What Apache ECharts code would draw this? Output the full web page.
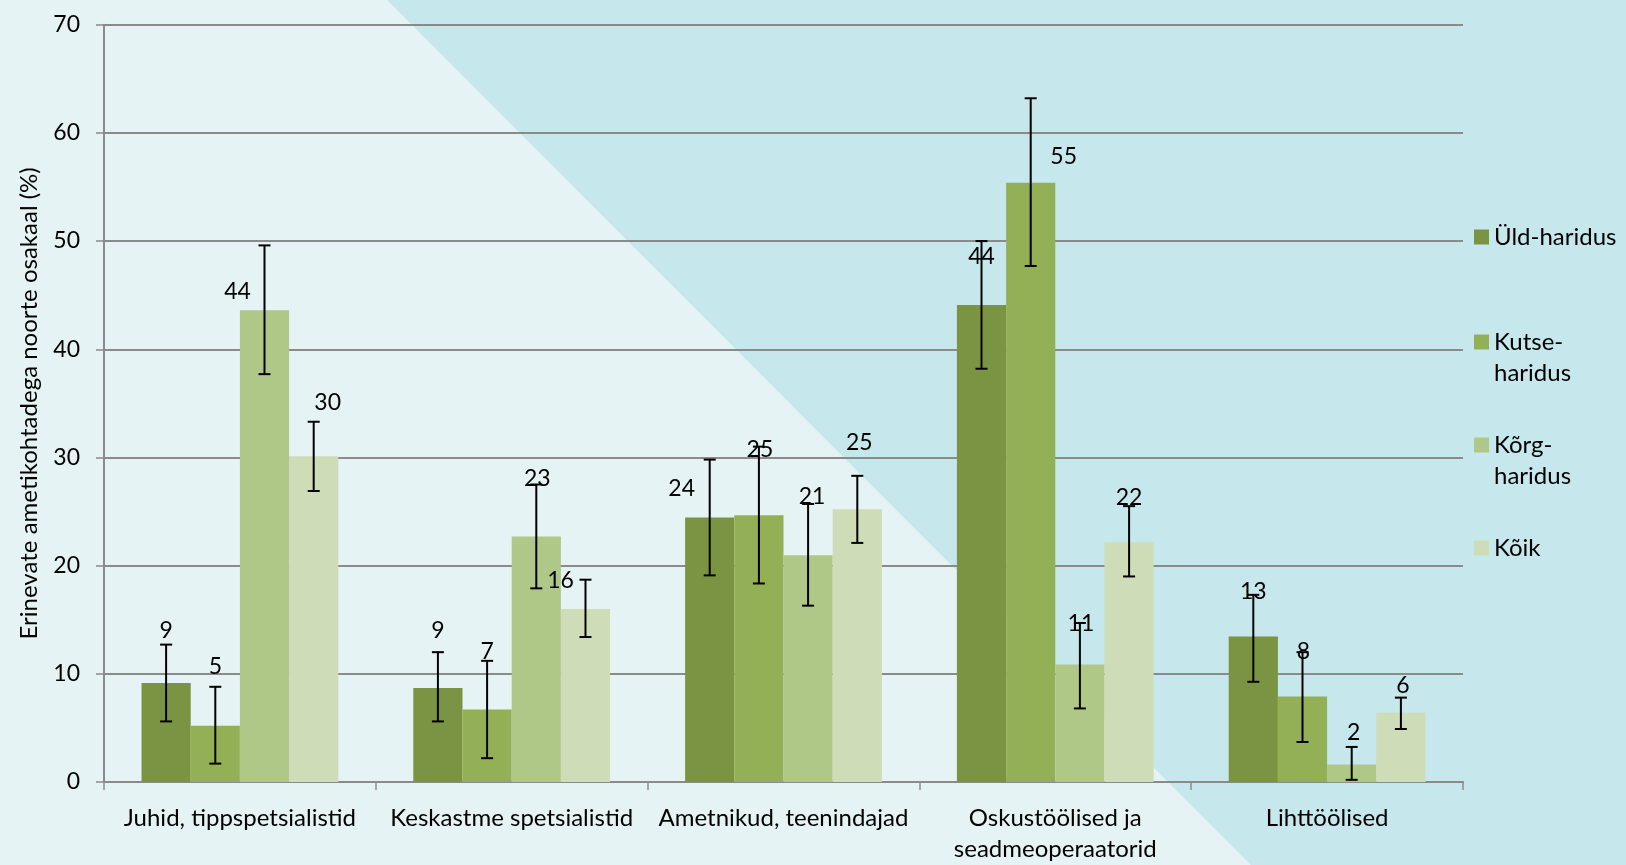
<!DOCTYPE html>
<html>
<head>
<meta charset="utf-8">
<script src="https://cdn.jsdelivr.net/npm/echarts@6/dist/echarts.min.js"></script>
<style>
html,body{margin:0;padding:0;background:#E5F3F5;}
#chart{width:1626px;height:865px;}
</style>
</head>
<body>
<div id="chart"></div>
<script>
// ---- data ----
const categories = ['Juhid, tippspetsialistid', 'Keskastme spetsialistid', 'Ametnikud, teenindajad', 'Oskustöölised ja\nseadmeoperaatorid', 'Lihttöölised'];
const seriesNames = ['Üld-haridus', 'Kutse-\nharidus', 'Kõrg-\nharidus', 'Kõik'];
const yldValues   = [9.15, 8.7, 24.45, 44.1, 13.46];
const kutseValues = [5.2, 6.7, 24.65, 55.4, 7.9];
const korgValues  = [43.6, 22.7, 20.95, 10.87, 1.62];
const koikValues  = [30.1, 16.0, 25.2, 22.15, 6.4];
const yldLow   = [5.6, 5.6, 19.1, 38.2, 9.26];
const yldHigh  = [12.7, 12.0, 29.8, 50.0, 17.3];
const kutseLow  = [1.7, 2.2, 18.35, 47.7, 3.7];
const kutseHigh = [8.8, 11.2, 31.0, 63.2, 12.0];
const korgLow  = [37.7, 17.9, 16.3, 6.8, 0.2];
const korgHigh = [49.6, 27.5, 25.7, 14.7, 3.24];
const koikLow  = [26.9, 13.4, 22.1, 19.0, 4.9];
const koikHigh = [33.3, 18.7, 28.3, 25.5, 7.8];
const yTicks = [0, 10, 20, 30, 40, 50, 60, 70];

// ---- styling ----
const FONT = 'Lato';
const colors = ['#7A9444', '#93B056', '#B0C887', '#CEDCB8'];
const labelOffsets = [
  [[0,-40],[0,-45],[-28,-17],[0,-36],[0,-33]],
  [[0,-47],[0,-46],[1,-54],[33,-14],[1,-33]],
  [[-27,-7],[1,-46],[4,-47],[1,-29],[2,-20]],
  [[14,-42],[-25,-16],[2,-55],[0,-33],[2,-15]]
];
const legendTops = [221.5, 295.5, 398.5, 532.5];
const CAT_GAP = 0.276;

const values = [yldValues, kutseValues, korgValues, koikValues];
const lows = [yldLow, kutseLow, korgLow, koikLow];
const highs = [yldHigh, kutseHigh, korgHigh, koikHigh];

const chart = echarts.init(document.getElementById('chart'));

const barSeries = seriesNames.map((name, s) => ({
  name: name,
  type: 'bar',
  barGap: '0%',
  barCategoryGap: (CAT_GAP * 100) + '%',
  itemStyle: { color: colors[s] },
  z: 2,
  data: values[s].map((v, i) => ({
    value: v,
    label: { offset: labelOffsets[s][i] }
  })),
  label: {
    show: true,
    position: 'top',
    distance: 0,
    fontFamily: FONT,
    fontSize: 23,
    lineHeight: 24,
    color: '#000',
    formatter: p => Math.round(p.value)
  }
}));

const errSeries = seriesNames.map((name, s) => ({
  name: 'err' + s,
  type: 'custom',
  z: 5,
  silent: true,
  data: categories.map((c, i) => [i, lows[s][i], highs[s][i]]),
  renderItem: function (params, api) {
    const i = api.value(0);
    const lo = api.coord([i, api.value(1)]);
    const hi = api.coord([i, api.value(2)]);
    const band = api.size([1, 0])[0];
    const bw = band * (1 - CAT_GAP) / 4;
    const x = lo[0] + (s - 1.5) * bw;
    const cap = 6;
    const st = { stroke: '#000', lineWidth: 2 };
    return {
      type: 'group',
      children: [
        { type: 'line', shape: { x1: x, y1: lo[1], x2: x, y2: hi[1] }, style: st },
        { type: 'line', shape: { x1: x - cap, y1: lo[1], x2: x + cap, y2: lo[1] }, style: st },
        { type: 'line', shape: { x1: x - cap, y1: hi[1], x2: x + cap, y2: hi[1] }, style: st }
      ]
    };
  }
}));

const legends = seriesNames.map((name, s) => ({
  data: [name],
  orient: 'vertical',
  left: 1474,
  top: legendTops[s],
  padding: 0,
  itemWidth: 15,
  itemHeight: 15,
  icon: 'rect',
  selectedMode: false,
  formatter: n => (n.indexOf('\n') >= 0 ? ' \n' + n : n),
  textStyle: { fontFamily: FONT, fontSize: 24, lineHeight: 31, color: '#000' }
}));

chart.setOption({
  backgroundColor: '#E5F3F5',
  animation: false,
  graphic: [{
    type: 'polygon',
    z: -10,
    zlevel: 0,
    silent: true,
    shape: { points: [[387, 0], [1626, 0], [1626, 865], [1251, 865]] },
    style: { fill: '#C6E7EC' }
  }],
  legend: legends,
  grid: { left: 104, right: 163, top: 24.7, bottom: 80, containLabel: false },
  xAxis: {
    type: 'category',
    data: categories,
    axisLine: { lineStyle: { color: '#8A8A8A', width: 2 } },
    axisTick: { show: true, length: 8, lineStyle: { color: '#8A8A8A', width: 1.5 } },
    axisLabel: { interval: 0, fontFamily: FONT, fontSize: 24, lineHeight: 31, color: '#000', margin: 21 },
    splitLine: { show: false }
  },
  yAxis: {
    type: 'value',
    min: yTicks[0],
    max: yTicks[yTicks.length - 1],
    interval: 10,
    name: 'Erinevate ametikohtadega noorte osakaal (%)',
    nameLocation: 'middle',
    nameGap: 63,
    nameRotate: 90,
    nameTextStyle: { fontFamily: FONT, fontSize: 24, color: '#000' },
    axisLine: { show: true, lineStyle: { color: '#8A8A8A', width: 2 } },
    axisTick: { show: true, length: 8, lineStyle: { color: '#8A8A8A', width: 1.5 } },
    axisLabel: { fontFamily: FONT, fontSize: 23, color: '#000', margin: 24 },
    splitLine: { show: true, lineStyle: { color: '#8A8A8A', width: 2 } }
  },
  series: barSeries.concat(errSeries)
});
</script>
</body>
</html>
